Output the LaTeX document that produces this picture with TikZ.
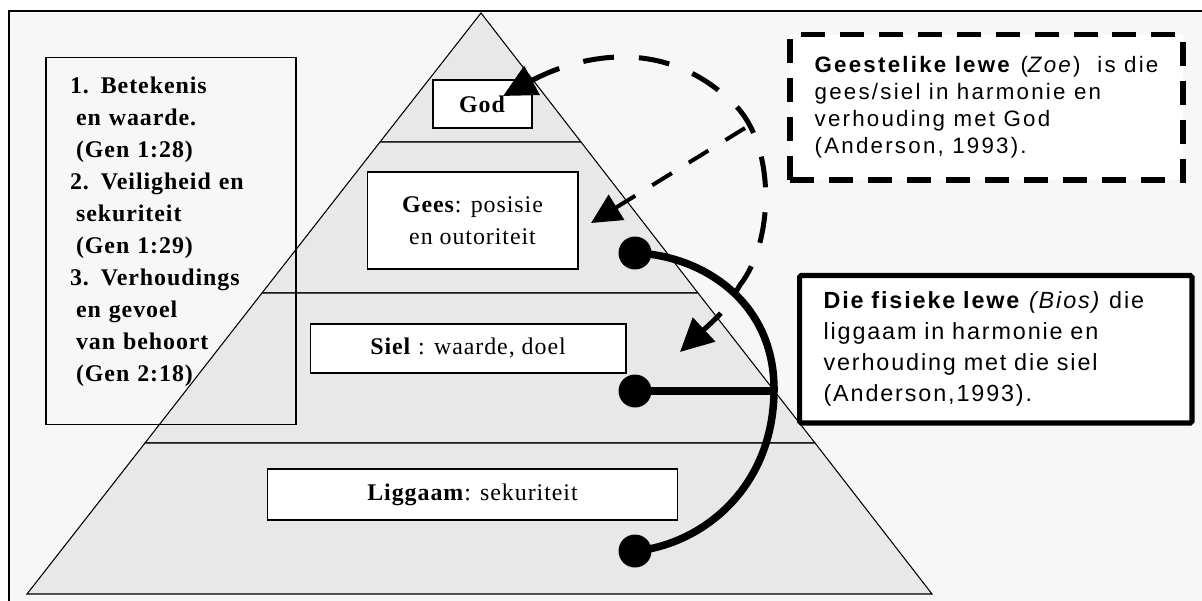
\documentclass[tikz,border=0pt]{standalone}
\usepackage{fontspec}
\setmainfont{Liberation Serif}[LetterSpace=4]
\newfontfamily\notefont{Liberation Sans}[LetterSpace=8]
\newfontfamily\zoefont{Liberation Sans}[LetterSpace=10]
\usetikzlibrary{arrows.meta}
\definecolor{pagegrey}{HTML}{F7F7F7}
\definecolor{layergrey}{HTML}{E8E8E8}
\newcommand{\ind}{\hspace*{0.12cm}}
\begin{document}
\begin{tikzpicture}[x=0.02cm,y=-0.02cm,%
% common options for the layers of the pyramid:
layer/.style = {draw, fill=layergrey, line width=0.6pt},
% common options for the white labels on the layers:
tag/.style = {draw, fill=white, line width=0.6pt, align=center, inner sep=0,
            font=\fontsize{13.6}{18.2}\selectfont},
% common options for the dots:
dot/.style = {circle, fill, minimum size=0.66cm, inner sep=0},
% common options for the dashed and the solid lines:
zoeline/.style = {line width=0.1cm, dash pattern=on 0.62cm off 0.5cm},
biosline/.style = {line width=0.15cm},
bigtip/.tip = {Triangle[length=0.66cm,width=0.64cm]}]
\useasboundingbox (0,0) rectangle (1202,601);
\fill[white] (0,0) rectangle (1202,601);
\fill[pagegrey] (9,11) rectangle (1202,601);
\draw[line width=1.7pt] (9,601) -- (9,11) -- (1202,11);
% pyramid
\coordinate (apex) at (481,13);
\coordinate (l1) at (380,142); \coordinate (r1) at (581,142);
\coordinate (l2) at (262,293); \coordinate (r2) at (698,293);
\coordinate (l3) at (145,443); \coordinate (r3) at (815,443);
\coordinate (l4) at (27,594);  \coordinate (r4) at (932,594);
\draw[layer] (apex) -- (r1) -- (l1) -- cycle;
\draw[layer] (l1) -- (r1) -- (r2) -- (l2) -- cycle;
\draw[layer] (l2) -- (r2) -- (r3) -- (l3) -- cycle;
\draw[layer] (l3) -- (r3) -- (r4) -- (l4) -- cycle;
% list on the left
\node[draw, line width=0.6pt, minimum width=5cm, minimum height=7.36cm,
      text width=4.04cm, inner xsep=0.48cm, inner ysep=0, align=left,
      font=\bfseries\fontsize{13.6}{18.2}\selectfont] (verses) at (171,241)
  {1. Betekenis\\ \ind en waarde.\\ \ind (Gen 1:28)\\
   2. Veiligheid en\\ \ind sekuriteit\\ \ind (Gen 1:29)\\
   3. Verhoudings\\ \ind en gevoel\\ \ind van behoort\\ \ind (Gen 2:18)\rule[-0.46cm]{0pt}{0pt}};
% labels on the layers
\node[tag, minimum width=1.98cm, minimum height=0.96cm] (god) at (482.5,104) {\textbf{God}};
\node[tag, minimum width=4.22cm, minimum height=1.94cm] (gees) at (472.5,220.5)
  {\textbf{Gees}: posisie\\en outoriteit};
\node[tag, minimum width=6.32cm, minimum height=0.98cm] (siel) at (468,348.5)
  {\textbf{Siel} : waarde, doel};
\node[tag, minimum width=8.22cm, minimum height=1.02cm] (liggaam) at (472.5,494.5)
  {\textbf{Liggaam}: sekuriteit};
% notes on the right
\node[draw, fill=white, line width=3.1pt, dash pattern=on 0.48cm off 0.3cm,
      minimum width=7.86cm, minimum height=2.91cm, align=left,
      font=\zoefont\fontsize{12.7}{15.4}\selectfont] (zoe) at (986.5,107.25)
  {\textbf{Geestelike lewe} (\textit{Zoe})\ \ is die\\
   gees/siel in harmonie en\\ verhouding met God\\ (Anderson, 1993).};
\node[draw, fill=white, line width=2.9pt, rounded corners=1pt,
      minimum width=7.85cm, minimum height=2.95cm, text width=6.89cm,
      inner xsep=0.48cm, align=left,
      font=\notefont\fontsize{13.3}{17.6}\selectfont] (bios) at (995.75,349.25)
  {\textbf{Die fisieke lewe} \textit{(Bios)} die\\ liggaam in harmonie en\\
   verhouding met die siel\\ (Anderson,1993).};
% dashed arrows
\coordinate (godtip) at (503,96);
\coordinate (sieltip) at (680,352);
\coordinate (geestip) at (591,223);
\coordinate (fork) at (745,128);
\draw[zoeline, bigtip-bigtip] (godtip) .. controls (570,60) and (660,30) .. (735,105)
  .. controls (775,145) and (775,240) .. (740,285) .. controls (725,310) .. (sieltip);
\draw[line width=0.08cm, dash pattern=on 0.46cm off 0.4cm,
      -{Triangle[length=0.6cm,width=0.58cm]}] (fork) -- (geestip);
% solid lines with dots
\node[dot] (geesdot) at (635,253) {};
\node[dot] (sieldot) at (635,391) {};
\node[dot] (lyfdot) at (635,551) {};
\coordinate (hinge) at (774,391);
\draw[biosline] (geesdot.center) .. controls (700,255) and (775,300) .. (hinge)
  .. controls (773,490) and (700,545) .. (lyfdot.center);
\draw[line width=0.17cm] (sieldot.center) -- (hinge);
\end{tikzpicture}
\end{document}
